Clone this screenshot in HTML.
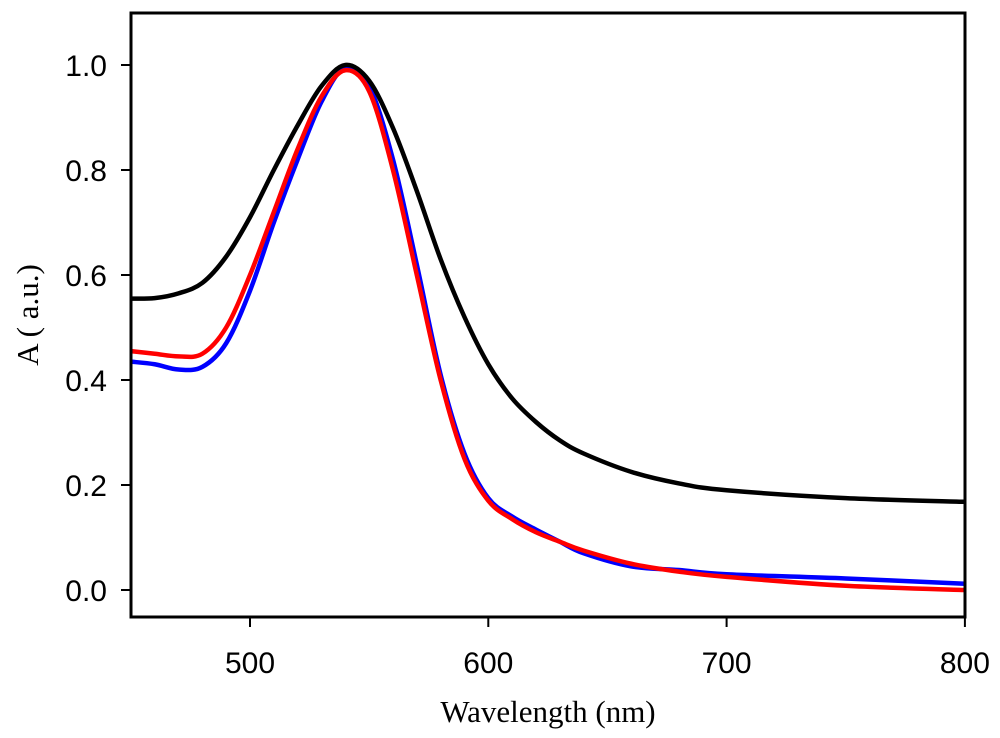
<!DOCTYPE html>
<html><head><meta charset="utf-8"><style>
body{margin:0;background:#fff}
svg text{font-family:"Liberation Sans",Arial,sans-serif}
</style></head><body>
<svg id="chart" width="1000" height="733" viewBox="0 0 1000 733">
<g id="marks"></g>
<rect x="131" y="13" width="834" height="604" fill="none" stroke="#000" stroke-width="3"/>
<g id="axes"></g>
<text x="548" y="722" text-anchor="middle" font-size="31" style="font-family:'Liberation Serif',serif">Wavelength (nm)</text>
<text transform="translate(38,315) rotate(-90)" text-anchor="middle" font-size="31" style="font-family:'Liberation Serif',serif">A ( a.u.)</text>
</svg>
<script>
const xTicks=[500,600,700,800];
const yTicks=[0.0,0.2,0.4,0.6,0.8,1.0];
const wl=[450,460,470,480,490,500,510,520,530,540,550,560,570,580,590,600,610,620,630,640,660,680,700,750,800];
const black=[0.555,0.556,0.565,0.585,0.635,0.71,0.80,0.885,0.96,1.0,0.97,0.88,0.76,0.63,0.52,0.43,0.365,0.32,0.285,0.26,0.225,0.203,0.19,0.175,0.168];
const red=[0.455,0.45,0.445,0.45,0.50,0.60,0.72,0.84,0.94,0.99,0.95,0.80,0.60,0.40,0.25,0.17,0.135,0.11,0.092,0.075,0.05,0.035,0.025,0.008,0.0];
const blue=[0.435,0.43,0.42,0.425,0.47,0.57,0.70,0.82,0.93,0.995,0.96,0.82,0.62,0.41,0.26,0.175,0.14,0.115,0.092,0.07,0.045,0.038,0.03,0.022,0.012];
const X=v=>250+(v-500)*2.383;
const Y=v=>590-v*525;
const ns="http://www.w3.org/2000/svg";
const axes=document.getElementById('axes'),marks=document.getElementById('marks');
function mk(t,a,p){const e=document.createElementNS(ns,t);for(const k in a)e.setAttribute(k,a[k]);p.appendChild(e);return e;}
xTicks.forEach(v=>{
 const l=mk('line',{x1:X(v),x2:X(v),y1:617,y2:627,stroke:'#000','stroke-width':2},axes);
 
 
 const t=mk('text',{x:X(v),y:673,'text-anchor':'middle','font-size':30},axes);t.textContent=v;
 
 
});
yTicks.forEach(v=>{
 const l=mk('line',{x1:121,x2:131,y1:Y(v),y2:Y(v),stroke:'#000','stroke-width':2},axes);
 
 
 const t=mk('text',{x:107,y:Y(v)+11,'text-anchor':'end','font-size':30},axes);t.textContent=v.toFixed(1);
 
 
});
function path(vals){
 const p=wl.map((w,i)=>[X(w),Y(vals[i])]);
 let d='M'+p[0][0]+','+p[0][1];
 for(let i=0;i<p.length-1;i++){
  const p0=p[Math.max(0,i-1)],p1=p[i],p2=p[i+1],p3=p[Math.min(p.length-1,i+2)];
  const c1=[p1[0]+(p2[0]-p0[0])/6,p1[1]+(p2[1]-p0[1])/6];
  const c2=[p2[0]-(p3[0]-p1[0])/6,p2[1]-(p3[1]-p1[1])/6];
  d+=' C'+c1+' '+c2+' '+p2;
 }
 return d;
}
[[blue,'#0000ff','series-blue'],[red,'#ff0000','series-red'],[black,'#000','series-black']].forEach(([v,c,n])=>{
 const e=mk('path',{d:path(v),fill:'none',stroke:c,'stroke-width':4.5},marks);
 
 
});
</script>
</body></html>
